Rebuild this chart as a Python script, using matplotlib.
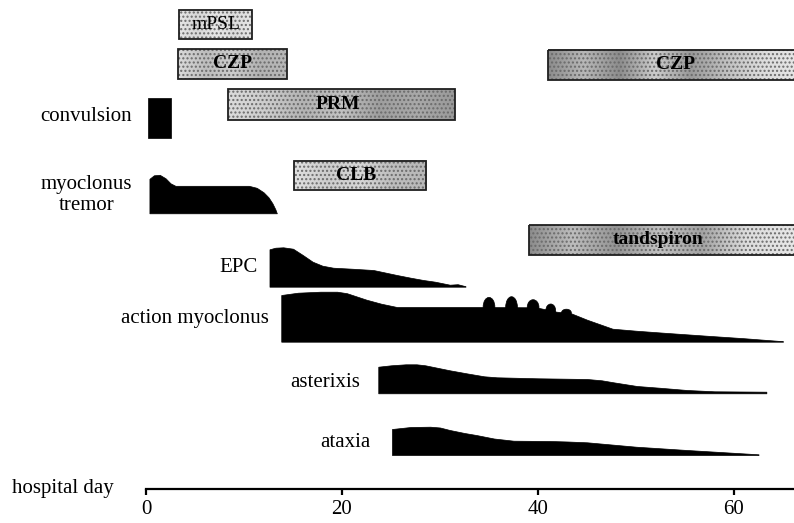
import numpy as np
import matplotlib
matplotlib.use("Agg")
import matplotlib.pyplot as plt
from matplotlib.patches import Rectangle, Ellipse

# ---------------- data ----------------
# drug administration periods (hospital day)
drug_names = ["mPSL", "CZP", "PRM", "CLB", "CZP", "tandspiron"]
drug_start = [3.4, 3.3, 8.4, 15.1, 41.0, 39.1]
drug_end = [10.8, 14.4, 31.5, 28.6, 70.0, 70.0]
drug_label_day = [7.2, 8.8, 19.6, 21.4, 54.0, 52.2]
drug_bold = [False, True, True, True, True, True]

# symptoms: severity profiles (arbitrary units)
symptom_names = ["convulsion", "myoclonus\ntremor", "EPC", "action myoclonus",
                 "asterixis", "ataxia"]

conv_days = [0.2, 2.5]
conv_sev = [4.0, 4.0]

myo_days = [0.35, 0.8, 1.4, 2.0, 2.5, 3.0, 10.5, 11.3, 12.0, 12.5, 12.9, 13.2, 13.35]
myo_sev = [3.45, 3.8, 3.85, 3.5, 3.0, 2.75, 2.75, 2.55, 2.1, 1.6, 1.0, 0.4, 0.0]

epc_days = [12.6, 13.2, 14.0, 15.0, 16.0, 17.0, 18.0, 19.1, 21.0, 23.2, 25.6, 27.0,
            28.3, 29.5, 31.0, 31.8, 32.6]
epc_sev = [3.74, 3.9, 3.94, 3.8, 3.17, 2.5, 2.1, 1.9, 1.8, 1.67, 1.17, 0.9,
           0.67, 0.5, 0.2, 0.25, 0.05]

am_days = [13.8, 15.5, 17.8, 19.5, 20.5, 22.5, 24.0, 25.6, 34.0, 39.8, 41.9, 43.3,
           45.0, 47.6, 50.0, 52.8, 57.2, 61.0, 65.0]
am_sev = [4.67, 4.9, 5.0, 5.0, 4.85, 4.2, 3.8, 3.47, 3.47, 3.44, 3.0, 2.87,
          2.2, 1.3, 1.1, 0.9, 0.6, 0.35, 0.05]
bump_days = [35.0, 37.3, 39.5, 41.3, 42.9]
bump_peak = [4.43, 4.5, 4.2, 3.77, 3.25]
bump_width = [1.2, 1.2, 1.2, 1.0, 1.0]

ast_days = [23.7, 25.0, 26.5, 27.6, 28.5, 29.7, 31.0, 32.7, 34.5, 35.8, 40.0, 45.0,
            46.5, 47.7, 50.1, 52.5, 55.2, 58.0, 63.3]
ast_sev = [2.66, 2.8, 2.9, 2.9, 2.8, 2.56, 2.3, 2.0, 1.7, 1.6, 1.5, 1.43,
           1.3, 1.1, 0.73, 0.55, 0.33, 0.2, 0.16]

atx_days = [25.1, 27.0, 29.0, 30.0, 31.0, 32.5, 33.7, 35.5, 37.5, 41.2, 43.0, 45.0,
            47.5, 50.0, 55.2, 62.5]
atx_sev = [2.6, 2.8, 2.83, 2.75, 2.5, 2.2, 2.0, 1.65, 1.43, 1.4, 1.35, 1.27,
           1.05, 0.83, 0.5, 0.07]

xticks = [0, 20, 40, 60]

# ---------------- layout / style ----------------
W, H = 794, 523
PX_PER_DAY = 9.8
AX_LEFT_PX = 146
AXIS_Y_PX = 489
SEV_SCALE = 10.0  # vertical units per severity unit

drug_lanes = [(9.5, 39.0), (49.0, 79.0), (89.0, 120.0), (160.5, 190.0),
              (49.5, 80.0), (225.0, 255.0)]
drug_grays = [
    [0.9, 0.84, 0.9, 0.86, 0.9],
    [0.86, 0.74, 0.8, 0.7, 0.72],
    [0.86, 0.8, 0.7, 0.76, 0.62, 0.66, 0.6],
    [0.88, 0.8, 0.84, 0.74, 0.72],
    [0.55, 0.72, 0.55, 0.8, 0.6, 0.75, 0.86, 0.9, 0.88],
    [0.55, 0.74, 0.58, 0.76, 0.64, 0.86, 0.9, 0.92],
]

symptom_base = [137.7, 213.3, 286.7, 341.7, 393.3, 455.0]
symptom_series = [(conv_days, conv_sev), (myo_days, myo_sev), (epc_days, epc_sev),
                  (am_days, am_sev), (ast_days, ast_sev), (atx_days, atx_sev)]

FONT = "Liberation Serif"
plt.rcParams["font.family"] = [FONT, "DejaVu Serif"]

dpi = 100
fig = plt.figure(figsize=(W / dpi, H / dpi), dpi=dpi)
ax = fig.add_axes([AX_LEFT_PX / W, (H - AXIS_Y_PX) / H,
                   (W - AX_LEFT_PX) / W, AXIS_Y_PX / H])
xmax = (W - AX_LEFT_PX) / PX_PER_DAY

# drug bars
for name, s, e, lab, bold, (top, bot), grays in zip(
        drug_names, drug_start, drug_end, drug_label_day, drug_bold, drug_lanes, drug_grays):
    g = np.interp(np.linspace(0, len(grays) - 1, 200), np.arange(len(grays)), grays)
    ax.imshow(g[None, :], extent=(s, e, bot, top), cmap="gray", vmin=0, vmax=1,
              aspect="auto", interpolation="bilinear", zorder=1)
    ax.add_patch(Rectangle((s, top), e - s, bot - top, fill=False, hatch="....",
                           edgecolor="0.42", linewidth=0, zorder=2))
    ax.add_patch(Rectangle((s, top), e - s, bot - top, fill=False,
                           edgecolor="0.12", linewidth=1.3, zorder=3))
    ax.text(lab, (top + bot) / 2, name, ha="center", va="center", fontsize=14,
            fontweight="bold" if bold else "normal", color="black", zorder=4)

# symptom profiles
for (days, sev), base in zip(symptom_series, symptom_base):
    d = np.asarray(days)
    v = np.asarray(sev)
    ax.fill_between(d, base, base - v * SEV_SCALE, color="black", linewidth=0.5,
                    edgecolor="black", zorder=2)

# bumps on action myoclonus
am_base = symptom_base[3]
for c, pk, wd in zip(bump_days, bump_peak, bump_width):
    local = np.interp(c, am_days, am_sev)
    hh = (pk - local) * SEV_SCALE
    ax.add_patch(Ellipse((c, am_base - local * SEV_SCALE), wd, 2 * hh,
                         facecolor="black", edgecolor="black", lw=0.5, zorder=2))

# symptom labels
label_kw = dict(fontsize=15, color="black", va="center", clip_on=False)
ax.text(-1.43, 116.7, "convulsion", ha="right", **label_kw)
ax.text(-6.1, 185.0, "myoclonus", ha="center", **label_kw)
ax.text(-6.1, 205.0, "tremor", ha="center", **label_kw)
ax.text(11.36, 268.0, "EPC", ha="right", **label_kw)
ax.text(12.58, 318.0, "action myoclonus", ha="right", **label_kw)
ax.text(21.84, 382.7, "asterixis", ha="right", **label_kw)
ax.text(22.86, 442.7, "ataxia", ha="right", **label_kw)
ax.text(-13.7, AXIS_Y_PX, "hospital day", ha="left", **label_kw)

# axes
ax.set_xlim(0, xmax)
ax.set_ylim(AXIS_Y_PX, 0)
for sp in ["top", "right", "left"]:
    ax.spines[sp].set_visible(False)
ax.spines["bottom"].set_linewidth(1.6)
ax.set_yticks([])
ax.set_xticks(xticks)
ax.set_xticklabels([str(t) for t in xticks])
ax.tick_params(axis="x", direction="out", length=4, width=1.6, pad=4, labelsize=15)
for lbl in ax.get_xticklabels():
    lbl.set_fontfamily(FONT)
ax.patch.set_alpha(0)

fig.savefig("out.png", dpi=dpi)
